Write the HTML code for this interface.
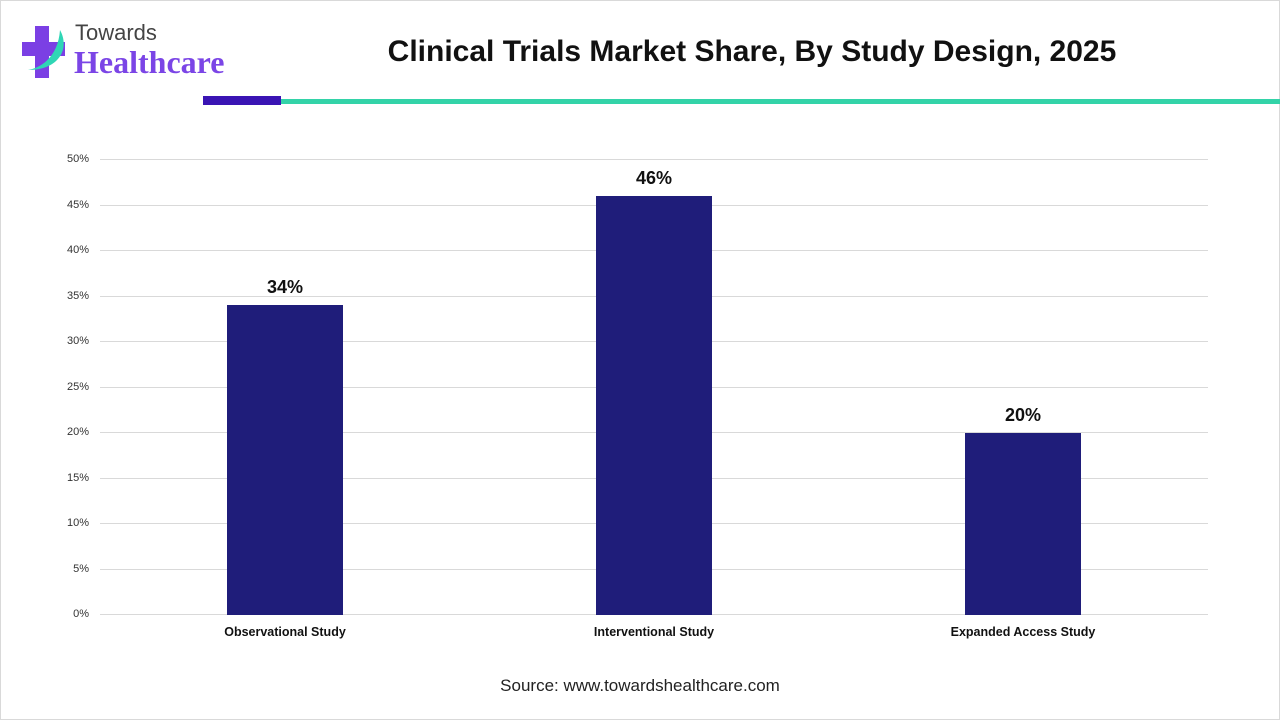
<!DOCTYPE html>
<html><head><meta charset="utf-8"><style>
body{margin:0;width:1280px;height:720px;background:#fff;font-family:"Liberation Sans",sans-serif;position:relative;overflow:hidden}
.frame{position:absolute;left:0;top:0;width:1278px;height:718px;border:1px solid #d9d9d9}
.t{position:absolute;white-space:nowrap}
.grid{position:absolute;left:100px;width:1108px;height:1px;background:#d9d9d9}
.yl{position:absolute;left:30px;width:59px;text-align:right;font-size:11px;color:#333}
.bar{position:absolute;width:116px;background:#1f1d7a}
.vl{position:absolute;width:116px;text-align:center;font-size:18px;font-weight:bold;color:#111}
.xl{position:absolute;width:300px;text-align:center;font-size:12.5px;font-weight:bold;color:#111}
</style></head><body>
<div class="frame"></div>
<svg style="position:absolute;left:20px;top:24px" width="52" height="56" viewBox="0 0 52 56">
<path d="M15 2h14v16h16v14H29v22H15V32H2V18h13z" fill="#7b3fe4"/>
<path d="M8 46C20 44 38 34 40 6 50 24 40 46 8 46z" fill="#2fd6b5"/>
</svg>
<div class="t" style="left:75px;top:20px;font-size:22px;color:#444">Towards</div>
<div class="t" style="left:74px;top:44px;font-size:32px;font-weight:bold;color:#7b45e6;font-family:'Liberation Serif',serif">Healthcare</div>
<div class="t" style="left:0;width:1504px;top:35px;text-align:center;font-size:30px;font-weight:bold;color:#111">Clinical Trials Market Share, By Study Design, 2025</div>
<div style="position:absolute;left:203px;top:96px;width:78px;height:9px;background:#3a14b4"></div>
<div style="position:absolute;left:281px;top:99px;width:999px;height:5px;background:#33d3a8"></div>
<div class="grid" style="top:159px"></div><div class="grid" style="top:205px"></div><div class="grid" style="top:250px"></div><div class="grid" style="top:296px"></div><div class="grid" style="top:341px"></div><div class="grid" style="top:387px"></div><div class="grid" style="top:432px"></div><div class="grid" style="top:478px"></div><div class="grid" style="top:523px"></div><div class="grid" style="top:569px"></div><div class="grid" style="top:614px"></div>
<div class="yl" style="top:153px">50%</div><div class="yl" style="top:199px">45%</div><div class="yl" style="top:244px">40%</div><div class="yl" style="top:290px">35%</div><div class="yl" style="top:335px">30%</div><div class="yl" style="top:381px">25%</div><div class="yl" style="top:426px">20%</div><div class="yl" style="top:472px">15%</div><div class="yl" style="top:517px">10%</div><div class="yl" style="top:563px">5%</div><div class="yl" style="top:608px">0%</div>
<div class="bar" style="left:227px;top:305px;height:310px"></div>
<div class="bar" style="left:596px;top:196px;height:419px"></div>
<div class="bar" style="left:965px;top:433px;height:182px"></div>
<div class="vl" style="left:227px;top:277px">34%</div>
<div class="vl" style="left:596px;top:168px">46%</div>
<div class="vl" style="left:965px;top:405px">20%</div>
<div class="xl" style="left:135px;top:625px">Observational Study</div>
<div class="xl" style="left:504px;top:625px">Interventional Study</div>
<div class="xl" style="left:873px;top:625px">Expanded Access Study</div>
<div class="t" style="left:0;width:1280px;top:676px;text-align:center;font-size:17px;color:#222">Source: www.towardshealthcare.com</div>
</body></html>
